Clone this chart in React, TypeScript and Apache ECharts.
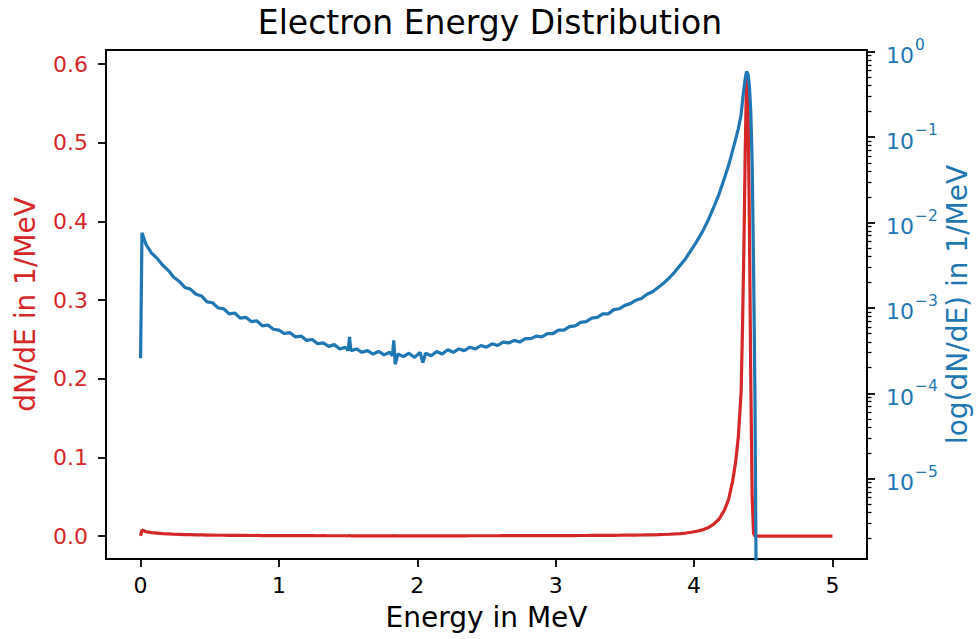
import React, { useEffect, useRef } from "react";
import * as echarts from "echarts";

// Energy grid (MeV) and the spectrum (log10 of dN/dE in 1/MeV).
// null = no counts (dN/dE = 0).
const energyMeV = [
  0.0, 0.01, 0.04, 0.08, 0.12, 0.16, 0.2, 0.24, 0.28, 0.32, 0.36, 0.4, 0.44, 0.48, 0.52, 0.56, 0.6, 0.64, 0.68,
  0.72, 0.76, 0.8, 0.84, 0.88, 0.92, 0.96, 1.0, 1.04, 1.08, 1.12, 1.16, 1.2, 1.24, 1.28, 1.32, 1.36, 1.4, 1.44,
  1.48, 1.5, 1.51, 1.52, 1.56, 1.6, 1.64, 1.68, 1.72, 1.76, 1.8, 1.82, 1.83, 1.84, 1.86, 1.9, 1.94, 1.98, 2.02,
  2.04, 2.06, 2.1, 2.14, 2.18, 2.22, 2.26, 2.3, 2.34, 2.38, 2.42, 2.46, 2.5, 2.54, 2.58, 2.62, 2.66, 2.7, 2.74,
  2.78, 2.82, 2.86, 2.9, 2.94, 2.98, 3.02, 3.06, 3.1, 3.14, 3.18, 3.22, 3.26, 3.3, 3.34, 3.38, 3.42, 3.46, 3.5,
  3.54, 3.58, 3.62, 3.66, 3.7, 3.74, 3.78, 3.82, 3.86, 3.9, 3.94, 3.98, 4.02, 4.06, 4.1, 4.14, 4.18, 4.22, 4.25,
  4.28, 4.3, 4.32, 4.34, 4.35, 4.36, 4.37, 4.38, 4.39, 4.4, 4.41, 4.42, 4.43, 4.44, 4.45, 4.46, 4.6, 4.8, 5.0,
];

const log10dNdE: (number | null)[] = [
  -3.59, -2.12, -2.26, -2.36, -2.42, -2.5, -2.56, -2.64, -2.69, -2.76, -2.78, -2.84, -2.86, -2.93, -2.94, -3.0,
  -3.01, -3.07, -3.06, -3.12, -3.11, -3.16, -3.15, -3.21, -3.2, -3.25, -3.26, -3.3, -3.29, -3.34, -3.33, -3.38,
  -3.37, -3.42, -3.41, -3.45, -3.43, -3.48, -3.46, -3.5, -3.34, -3.5, -3.48, -3.52, -3.5, -3.54, -3.51, -3.55,
  -3.52, -3.56, -3.38, -3.66, -3.54, -3.57, -3.53, -3.58, -3.52, -3.64, -3.53, -3.56, -3.51, -3.54, -3.49, -3.52,
  -3.48, -3.5, -3.46, -3.48, -3.44, -3.46, -3.42, -3.44, -3.4, -3.41, -3.38, -3.4, -3.36, -3.36, -3.33, -3.34,
  -3.3, -3.3, -3.26, -3.26, -3.22, -3.21, -3.17, -3.16, -3.12, -3.11, -3.07, -3.07, -3.02, -3.01, -2.97, -2.95,
  -2.91, -2.89, -2.84, -2.81, -2.76, -2.71, -2.65, -2.58, -2.5, -2.42, -2.32, -2.22, -2.11, -1.98, -1.83, -1.67,
  -1.48, -1.33, -1.15, -1.03, -0.9, -0.74, -0.58, -0.44, -0.31, -0.231, -0.26, -0.4, -0.7, -1.3, -2.5, -4.0,
  -6.5, null, null, null, null,
];

// Tick values
const xTicks = [0, 1, 2, 3, 4, 5];
const leftTicks = [0, 0.1, 0.2, 0.3, 0.4, 0.5, 0.6];
const rightDecades = [-5, -4, -3, -2, -1, 0];
const minorMultipliers = [2, 3, 4, 5, 6, 7, 8, 9];
const minorDecades = [-6, -5, -4, -3, -2, -1];

// Axis extents
const X_MIN = -0.25;
const X_MAX = 5.25;
const L_MIN = -0.0292;
const L_MAX = 0.6178;
const R_MIN = -5.94;
const R_MAX = 0.02;

const FONT = "DejaVu Sans";
const RED = "#d62728";
const BLUE = "#1f77b4";
const AXIS = "#000000";

const powLabel = (e: number) => {
  const n = Math.round(e);
  const exp = n < 0 ? "\u2212" + String(-n) : String(n);
  return "{b|10}{s|" + exp + "}";
};

export default function App() {
  const ref = useRef<HTMLDivElement>(null);

  useEffect(() => {
    if (!ref.current) return;
    const chart = echarts.init(ref.current, undefined, { renderer: "svg" });

    const redData = energyMeV.map((e, i) => {
      const l = log10dNdE[i];
      return [e, l == null ? 0 : Math.pow(10, l)];
    });
    const blueData = energyMeV.map((e, i) => [e, log10dNdE[i]]);

    const minorTicks: number[] = [];
    minorDecades.forEach((d) =>
      minorMultipliers.forEach((k) => {
        const v = d + Math.log10(k);
        if (v >= R_MIN && v <= R_MAX) minorTicks.push(v);
      })
    );

    const axisLine = { show: true, onZero: false, lineStyle: { color: AXIS, width: 1.8 } };
    const tickStyle = { color: AXIS, width: 1.8 };

    chart.setOption({
      animation: false,
      backgroundColor: "#ffffff",
      textStyle: { fontFamily: FONT },
      title: {
        text: "Electron Energy Distribution",
        left: 485,
        top: 1,
        textAlign: "center",
        textStyle: { fontFamily: FONT, fontSize: 33, fontWeight: "normal", color: "#000" },
      },
      grid: {
        left: 106,
        right: 110,
        top: 50,
        bottom: 80,
        containLabel: false,
        outerBoundsMode: "none",
        show: true,
        borderColor: AXIS,
        borderWidth: 1.8,
        backgroundColor: "transparent",
      },
      xAxis: {
        type: "value",
        min: X_MIN,
        max: X_MAX,
        name: "Energy in MeV",
        nameLocation: "middle",
        nameGap: 44,
        nameMoveOverlap: false,
        nameTextStyle: { fontFamily: FONT, fontSize: 28, color: "#000" },
        axisLine,
        axisTick: { show: true, length: 8, customValues: xTicks, lineStyle: tickStyle },
        axisLabel: {
          customValues: xTicks,
          margin: 15,
          fontFamily: FONT,
          fontSize: 22,
          color: "#000",
          formatter: (v: number) => String(v),
        },
        splitLine: { show: false },
      },
      yAxis: [
        {
          type: "value",
          position: "left",
          min: L_MIN,
          max: L_MAX,
          name: "dN/dE in 1/MeV",
          nameLocation: "middle",
          nameGap: 67,
          nameRotate: 90,
          nameMoveOverlap: false,
          nameTextStyle: { fontFamily: FONT, fontSize: 28, color: RED },
          axisLine,
          axisTick: { show: true, length: 8, customValues: leftTicks, lineStyle: tickStyle },
          axisLabel: {
            customValues: leftTicks,
            margin: 18,
            fontFamily: FONT,
            fontSize: 22,
            color: RED,
            formatter: (v: number) => v.toFixed(1),
          },
          splitLine: { show: false },
        },
        {
          type: "value",
          position: "right",
          min: R_MIN,
          max: R_MAX,
          name: "log(dN/dE) in 1/MeV",
          nameLocation: "middle",
          nameGap: 76,
          nameRotate: 90,
          nameMoveOverlap: false,
          nameTextStyle: { fontFamily: FONT, fontSize: 28, color: BLUE },
          axisLine,
          axisTick: { show: true, length: 8, customValues: rightDecades, lineStyle: tickStyle },
          axisLabel: {
            customValues: rightDecades,
            margin: 19,
            fontFamily: FONT,
            color: BLUE,
            formatter: (v: number) => powLabel(v),
            rich: {
              b: { fontFamily: FONT, fontSize: 22, color: BLUE, lineHeight: 30, verticalAlign: "bottom" },
              s: { fontFamily: FONT, fontSize: 15.5, color: BLUE, lineHeight: 30, verticalAlign: "top", padding: [0, 0, 0, 1] },
            },
          },
          splitLine: { show: false },
        },
        {
          type: "value",
          position: "right",
          min: R_MIN,
          max: R_MAX,
          axisLine: { show: false, onZero: false },
          axisTick: { show: true, length: 4.5, customValues: minorTicks, lineStyle: { color: AXIS, width: 1.3 } },
          axisLabel: { show: false },
          splitLine: { show: false },
        },
      ],
      series: [
        {
          type: "line",
          name: "dN/dE",
          yAxisIndex: 0,
          data: redData,
          symbol: "none",
          lineStyle: { color: RED, width: 3.2 },
          z: 2,
        },
        {
          type: "line",
          name: "log(dN/dE)",
          yAxisIndex: 1,
          data: blueData,
          symbol: "none",
          connectNulls: false,
          lineStyle: { color: BLUE, width: 3.2 },
          z: 3,
        },
      ],
    });

    return () => chart.dispose();
  }, []);

  return (
    <div
      ref={ref}
      style={{ position: "fixed", left: 0, top: 0, width: 977, height: 639, background: "#fff" }}
    />
  );
}
